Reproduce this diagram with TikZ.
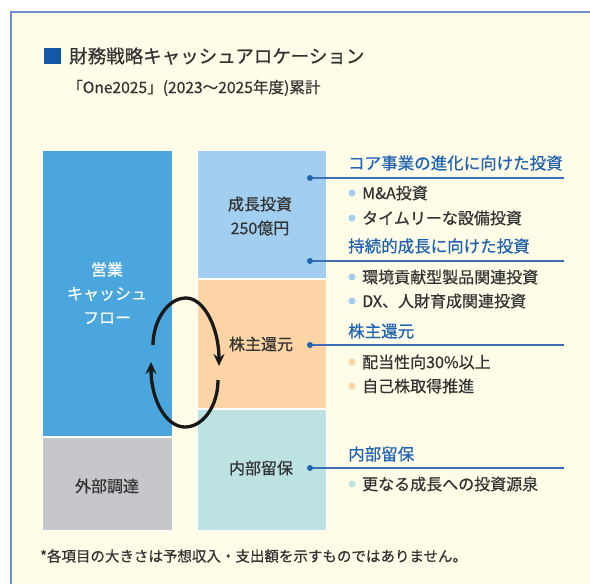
\documentclass[tikz,border=0pt]{standalone}
\usepackage{fontspec}
\setmainfont{Noto Sans CJK JP}[FakeBold=0.6]
\usetikzlibrary{arrows.meta}
\definecolor{cream}{HTML}{FFFCE7}
\definecolor{frameblue}{HTML}{6F8ECF}
\definecolor{sqblue}{HTML}{1558A8}
\definecolor{bigblue}{HTML}{4AA6DC}
\definecolor{lblue}{HTML}{A2CFEF}
\definecolor{lorange}{HTML}{FDD4A6}
\definecolor{lteal}{HTML}{BCE3E2}
\definecolor{lgray}{HTML}{C6C7CB}
\definecolor{hdblue}{HTML}{1F63B3}
\definecolor{lineblue}{HTML}{3D6DB5}
\definecolor{txt}{HTML}{333333}
\begin{document}
\begin{tikzpicture}[x=1pt,y=-1pt,
  box/.style={draw=white,line width=1pt},
  boxtext/.style={font=\fontsize{16}{24}\selectfont,text=txt,align=center,inner sep=0pt},
  hd/.style={anchor=west,font=\fontsize{16.5}{20}\selectfont,text=hdblue,inner sep=0pt},
  item/.style={anchor=west,font=\fontsize{16}{20}\selectfont,text=txt,inner sep=0pt},
  ldot/.style={circle,fill=hdblue,inner sep=0pt,minimum size=6pt},
  bdot/.style={circle,inner sep=0pt,minimum size=7pt},
  conn/.style={draw=lineblue,line width=1.2pt},
  cyc/.style={line width=3.3pt,draw=black!90,-{Stealth[length=12pt,width=11pt,inset=4pt]}}
]
\useasboundingbox (0,0) rectangle (590,584);
\fill[white] (0,0) rectangle (590,584);
\begin{scope}
\clip (0,0) rectangle (590,584);
\draw[fill=cream,draw=frameblue,line width=2pt] (11,12) rectangle (620,620);
\end{scope}
% title
\node[fill=sqblue,minimum width=17pt,minimum height=16pt,inner sep=0pt] (sq) at (52.5,56) {};
\node[anchor=west,font=\fontsize{18.5}{22}\selectfont,text=txt,inner sep=0pt] (title) at (69,56) {財務戦略キャッシュアロケーション};
\node[anchor=west,font=\fontsize{15.6}{20}\selectfont,text=txt,inner sep=0pt] (sub) at (67,88) {「One2025」(2023～2025年度)累計};
% left column
\fill[bigblue,box] (42,150) rectangle (172,436);
\fill[lgray,box] (42,437) rectangle (172,530);
\node[boxtext,text=white] (cf) at (107,293) {営業\\キャッシュ\\フロー};
\node[boxtext] (ext) at (107,486) {外部調達};
% middle column
\fill[lblue,box] (197,150) rectangle (326,278);
\fill[lorange,box] (197,279) rectangle (326,408);
\fill[lteal,box] (197,409) rectangle (326,530);
\node[boxtext] (inv) at (260,216) {成長投資\\250億円};
\node[boxtext] (ret) at (261,344) {株主還元};
\node[boxtext] (res) at (261,468) {内部留保};
% cycle arrows
\coordinate (a1) at (153,345);
\coordinate (a2) at (186,298);
\coordinate (a3) at (219,366);
\draw[cyc] (a1) .. controls (153,322) and (167,298) .. (a2) .. controls (204,298) and (219,328) .. (a3);
\coordinate (b1) at (218,380);
\coordinate (b2) at (185,427);
\coordinate (b3) at (151,362);
\draw[cyc] (b1) .. controls (218,406) and (203,427) .. (b2) .. controls (166,427) and (151,400) .. (b3);
% connectors
\node[ldot] (d1) at (310,178) {};
\node[ldot] (d2) at (310,261) {};
\node[ldot] (d3) at (310,345) {};
\node[ldot] (d4) at (310,468) {};
\coordinate (e1) at (564,178);
\coordinate (e2) at (564,261);
\coordinate (e3) at (564,345);
\coordinate (e4) at (564,468);
\draw[conn] (d1) -- (e1);
\draw[conn] (d2) -- (e2);
\draw[conn] (d3) -- (e3);
\draw[conn] (d4) -- (e4);
% headings
\node[hd] (h1) at (348,163) {コア事業の進化に向けた投資};
\node[hd] (h2) at (348,246) {持続的成長に向けた投資};
\node[hd] (h3) at (348,331) {株主還元};
\node[hd] (h4) at (348,454) {内部留保};
% items
\node[bdot,fill=lblue] (p1) at (352,193) {};
\node[item] (t1) at (362,193) {M\&A投資};
\node[bdot,fill=lblue] (p2) at (352,218) {};
\node[item] (t2) at (362,218) {タイムリーな設備投資};
\node[bdot,fill=lblue] (p3) at (352,277) {};
\node[item] (t3) at (362,277) {環境貢献型製品関連投資};
\node[bdot,fill=lblue] (p4) at (352,301) {};
\node[item] (t4) at (362,301) {DX、人財育成関連投資};
\node[bdot,fill=lorange] (p5) at (352,362) {};
\node[item] (t5) at (362,362) {配当性向30\%以上};
\node[bdot,fill=lorange] (p6) at (352,386) {};
\node[item] (t6) at (362,386) {自己株取得推進};
\node[bdot,fill=lteal] (p7) at (352,484) {};
\node[item] (t7) at (362,484) {更なる成長への投資源泉};
% footnote
\node[anchor=west,font=\fontsize{14.5}{18}\selectfont,text=txt,inner sep=0pt] (fn) at (40,556) {*各項目の大きさは予想収入・支出額を示すものではありません。};
\end{tikzpicture}
\end{document}
